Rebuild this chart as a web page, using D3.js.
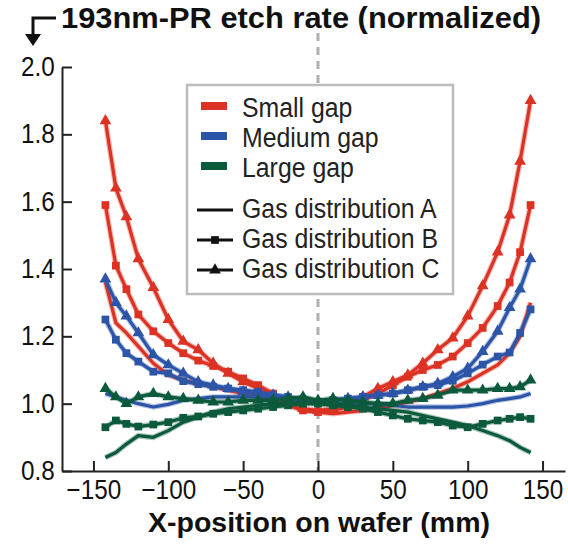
<!DOCTYPE html>
<html>
<head>
<meta charset="utf-8">
<script src="https://cdn.jsdelivr.net/npm/d3@7"></script>
<style>
  body { margin: 0; background: #fff; }
  svg { font-family: "Liberation Sans", Arial, sans-serif; }
</style>
</head>
<body>
<div id="chart"></div>
<script>
// x positions (mm) shared by every curve
const xPositions = [-142,-135,-128,-120,-110,-100,-90,-80,-70,-60,-50,-40,-30,-20,-10,0,10,20,30,40,50,60,70,80,90,100,110,120,128,135,142];

// small gap (red)
const smallA = [1.36,1.24,1.21,1.17,1.12,1.085,1.07,1.06,1.05,1.04,1.03,1.02,1.01,0.995,0.98,0.975,0.97,0.975,0.98,0.985,0.995,1.005,1.015,1.03,1.045,1.065,1.09,1.115,1.15,1.2,1.3];
const smallB = [1.59,1.41,1.34,1.265,1.215,1.18,1.15,1.128,1.112,1.095,1.075,1.055,1.03,1.0,0.98,0.975,0.98,0.99,1.01,1.03,1.055,1.08,1.1,1.115,1.14,1.18,1.225,1.29,1.36,1.45,1.59];
const smallC = [1.84,1.64,1.555,1.43,1.345,1.25,1.185,1.16,1.12,1.09,1.065,1.045,1.025,1.005,0.985,0.98,0.985,0.995,1.02,1.045,1.065,1.085,1.12,1.16,1.195,1.26,1.35,1.45,1.56,1.72,1.9];
// medium gap (blue)
const mediumA = [1.03,1.02,1.01,1.0,0.99,0.998,1.01,1.015,1.02,1.02,1.02,1.02,1.02,1.015,1.01,1.005,1.0,1.0,1.0,1.0,0.995,0.99,0.99,0.99,0.99,0.993,1.0,1.01,1.015,1.02,1.03];
const mediumB = [1.25,1.19,1.15,1.125,1.095,1.09,1.067,1.058,1.05,1.045,1.04,1.035,1.025,1.02,1.01,1.005,1.01,1.015,1.02,1.025,1.03,1.04,1.05,1.055,1.068,1.09,1.116,1.14,1.152,1.21,1.28];
const mediumC = [1.37,1.3,1.26,1.21,1.145,1.115,1.09,1.065,1.055,1.045,1.035,1.03,1.025,1.02,1.01,1.005,1.01,1.015,1.02,1.025,1.03,1.04,1.05,1.06,1.08,1.105,1.155,1.215,1.285,1.34,1.43];
// large gap (green)
const largeA = [0.84,0.855,0.88,0.905,0.9,0.92,0.945,0.96,0.975,0.985,0.99,0.995,1.0,1.0,1.005,1.0,1.0,0.995,0.99,0.985,0.98,0.975,0.965,0.955,0.945,0.935,0.92,0.905,0.89,0.87,0.855];
const largeB = [0.93,0.95,0.94,0.932,0.938,0.945,0.958,0.962,0.97,0.975,0.98,0.985,0.99,0.995,1.0,1.0,0.995,0.99,0.985,0.975,0.965,0.955,0.95,0.945,0.935,0.93,0.94,0.95,0.955,0.96,0.955];
const largeC = [1.045,1.02,1.0,1.02,1.03,1.02,1.015,1.01,1.005,1.005,1.01,1.01,1.01,1.015,1.02,1.01,1.015,1.01,1.005,1.0,1.0,1.01,1.015,1.025,1.04,1.04,1.04,1.045,1.045,1.05,1.07];

const xTicks = [-150,-100,-50,0,50,100,150];
const yTicks = [0.8,1.0,1.2,1.4,1.6,1.8,2.0];
const gapLabels = ['Small gap','Medium gap','Large gap'];
const gasLabels = ['Gas distribution A','Gas distribution B','Gas distribution C'];

const colors = { small: '#dc3224', medium: '#2c55a8', large: '#0c5a3c' };

const series = [
  { values: smallA, color: colors.small, marker: 'none' },
  { values: smallB, color: colors.small, marker: 'square' },
  { values: smallC, color: colors.small, marker: 'triangle' },
  { values: mediumA, color: colors.medium, marker: 'none' },
  { values: mediumB, color: colors.medium, marker: 'square' },
  { values: mediumC, color: colors.medium, marker: 'triangle' },
  { values: largeA, color: colors.large, marker: 'none' },
  { values: largeB, color: colors.large, marker: 'square' },
  { values: largeC, color: colors.large, marker: 'triangle' }
];

const width = 568, height = 548;
const svg = d3.select('#chart').append('svg').attr('width', width).attr('height', height);

const x = d3.scaleLinear().domain([-171, 165]).range([62, 565]);
const y = d3.scaleLinear().domain([0.8, 2.0]).range([471, 67]);

// dashed centre line
svg.append('line')
  .attr('x1', x(0)).attr('x2', x(0))
  .attr('y1', 33).attr('y2', y(0.8))
  .attr('stroke', '#b0b0b0').attr('stroke-width', 3)
  .attr('stroke-dasharray', '8,6');

// axes
const xAxis = d3.axisBottom(x).tickValues(xTicks).tickSizeInner(-10).tickSizeOuter(0).tickPadding(9);
const yAxis = d3.axisLeft(y).tickValues(yTicks).tickFormat(d3.format('.1f')).tickSizeInner(-10).tickSizeOuter(0).tickPadding(8);

const gx = svg.append('g').attr('transform', `translate(0,${y(0.8)})`).call(xAxis);
const gy = svg.append('g').attr('transform', `translate(${x(-171)},0)`).call(yAxis);
[gx, gy].forEach(g => {
  g.select('.domain').attr('stroke', '#222').attr('stroke-width', 2);
  g.selectAll('.tick line').attr('stroke', '#222').attr('stroke-width', 2);
  g.selectAll('.tick text').attr('fill', '#111').style('font-size', '27px')
    .style('font-family', '"Liberation Sans", Arial, sans-serif')
    .attr('transform', 'scale(0.9,1)');
});

// curves
const line = d3.line().x((d, i) => x(xPositions[i])).y(d => y(d));
const sym = { square: d3.symbol(d3.symbolSquare, 60), triangle: d3.symbol(d3.symbolTriangle, 60) };

series.forEach(s => {
  const g = svg.append('g');
  g.append('path').datum(s.values)
    .attr('d', line).attr('fill', 'none')
    .attr('stroke', s.color).attr('stroke-opacity', 0.35).attr('stroke-width', 5.5);
  g.append('path').datum(s.values)
    .attr('d', line).attr('fill', 'none')
    .attr('stroke', s.color).attr('stroke-width', 3.2).attr('stroke-linejoin', 'round');
  if (s.marker !== 'none') {
    g.selectAll('path.m').data(s.values).enter().append('path')
      .attr('class', 'm')
      .attr('d', sym[s.marker])
      .attr('transform', (d, i) => `translate(${x(xPositions[i])},${y(d)})`)
      .attr('fill', s.color);
  }
});

// legend
const legend = svg.append('g');
legend.append('rect').attr('x', 187).attr('y', 85).attr('width', 266).attr('height', 209)
  .attr('fill', '#fff').attr('stroke', '#bcbcbc').attr('stroke-width', 2.5);

const gapColors = [colors.small, colors.medium, colors.large];
gapLabels.forEach((label, i) => {
  const by = 117 + i * 30;
  legend.append('rect').attr('x', 201).attr('y', by - 15).attr('width', 26).attr('height', 8)
    .attr('fill', gapColors[i]);
  legend.append('text').attr('transform', `translate(242,${by}) scale(0.92,1)`).text(label)
    .style('font-size', '27px').attr('fill', '#222');
});

const gasMarkers = ['none', 'square', 'triangle'];
gasLabels.forEach((label, i) => {
  const by = 218 + i * 30;
  legend.append('line').attr('x1', 197).attr('x2', 233).attr('y1', by - 8).attr('y2', by - 8)
    .attr('stroke', '#111').attr('stroke-width', 3);
  if (gasMarkers[i] !== 'none') {
    legend.append('path').attr('d', sym[gasMarkers[i]])
      .attr('transform', `translate(215,${by - 8})`).attr('fill', '#111');
  }
  legend.append('text').attr('transform', `translate(242,${by}) scale(0.92,1)`).text(label)
    .style('font-size', '27px').attr('fill', '#222');
});

// title with bent arrow
svg.append('path').attr('d', 'M56,18 H33 V36').attr('fill', 'none')
  .attr('stroke', '#111').attr('stroke-width', 3);
svg.append('path').attr('d', 'M25,34 L41,34 L33,46 Z').attr('fill', '#111');
svg.append('text').attr('x', 61).attr('y', 28)
  .attr('textLength', 480).attr('lengthAdjust', 'spacingAndGlyphs')
  .style('font-size', '29px').style('font-weight', 'bold').attr('fill', '#111')
  .text('193nm-PR etch rate (normalized)');

// x-axis title
svg.append('text').attr('x', 319).attr('y', 532).attr('text-anchor', 'middle')
  .attr('textLength', 342).attr('lengthAdjust', 'spacingAndGlyphs')
  .style('font-size', '28px').style('font-weight', 'bold').attr('fill', '#111')
  .text('X-position on wafer (mm)');
</script>
</body>
</html>
